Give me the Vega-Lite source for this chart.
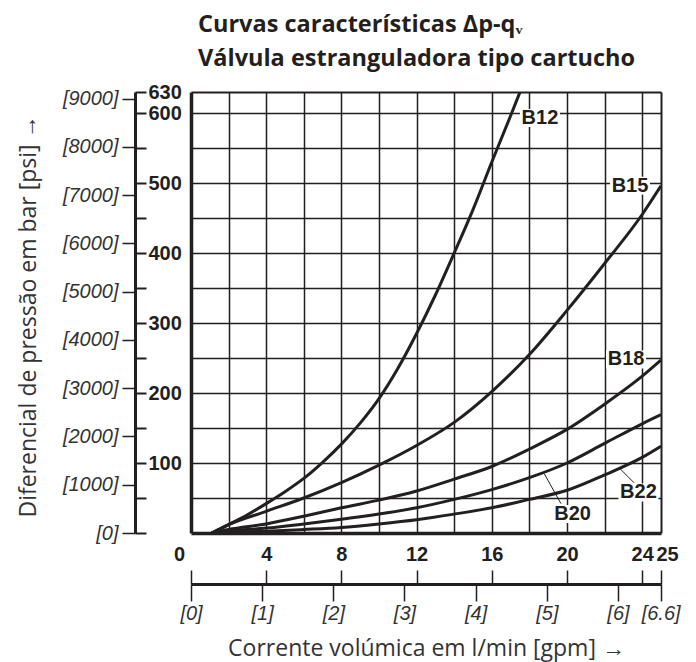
{
  "$schema": "https://vega.github.io/schema/vega-lite/v6.json",
  "width": 470,
  "height": 441,
  "autosize": {"type": "none"},
  "padding": {"left": 191, "top": 92, "right": 35, "bottom": 129},
  "background": "white",
  "config": {"view": {"stroke": null}, "font": "Liberation Sans"},
  "title": {
    "text": ["Curvas características Δp-qᵥ", "Válvula estranguladora tipo cartucho"],
    "anchor": "start",
    "frame": "group",
    "font": "Open Sans",
    "fontSize": 23.5,
    "fontWeight": "bold",
    "lineHeight": 34,
    "color": "#231f20",
    "offset": 18,
    "dx": 7,
    "dy": 6
  },
  "datasets": {
    "curves": [
      {"valve": "B12", "q": 1.1, "dp": 0}, {"valve": "B12", "q": 2, "dp": 12}, {"valve": "B12", "q": 3, "dp": 26}, {"valve": "B12", "q": 4, "dp": 42}, {"valve": "B12", "q": 5, "dp": 59}, {"valve": "B12", "q": 6, "dp": 78}, {"valve": "B12", "q": 7, "dp": 101}, {"valve": "B12", "q": 8, "dp": 127}, {"valve": "B12", "q": 9, "dp": 157}, {"valve": "B12", "q": 10, "dp": 192}, {"valve": "B12", "q": 11, "dp": 235}, {"valve": "B12", "q": 12, "dp": 285}, {"valve": "B12", "q": 13, "dp": 340}, {"valve": "B12", "q": 14, "dp": 400}, {"valve": "B12", "q": 15, "dp": 462}, {"valve": "B12", "q": 16, "dp": 530}, {"valve": "B12", "q": 17, "dp": 596}, {"valve": "B12", "q": 17.5, "dp": 630},
      {"valve": "B15", "q": 1.1, "dp": 0}, {"valve": "B15", "q": 2, "dp": 12}, {"valve": "B15", "q": 4, "dp": 31}, {"valve": "B15", "q": 6, "dp": 50}, {"valve": "B15", "q": 8, "dp": 72}, {"valve": "B15", "q": 10, "dp": 97}, {"valve": "B15", "q": 12, "dp": 125}, {"valve": "B15", "q": 14, "dp": 158}, {"valve": "B15", "q": 16, "dp": 202}, {"valve": "B15", "q": 18, "dp": 255}, {"valve": "B15", "q": 20, "dp": 318}, {"valve": "B15", "q": 22, "dp": 385}, {"valve": "B15", "q": 24, "dp": 455}, {"valve": "B15", "q": 25, "dp": 496},
      {"valve": "B18", "q": 1.1, "dp": 0}, {"valve": "B18", "q": 2, "dp": 5}, {"valve": "B18", "q": 4, "dp": 13}, {"valve": "B18", "q": 6, "dp": 24}, {"valve": "B18", "q": 8, "dp": 36}, {"valve": "B18", "q": 10, "dp": 47}, {"valve": "B18", "q": 12, "dp": 60}, {"valve": "B18", "q": 14, "dp": 77}, {"valve": "B18", "q": 16, "dp": 95}, {"valve": "B18", "q": 18, "dp": 120}, {"valve": "B18", "q": 20, "dp": 148}, {"valve": "B18", "q": 22, "dp": 184}, {"valve": "B18", "q": 24, "dp": 224}, {"valve": "B18", "q": 25, "dp": 247},
      {"valve": "B20", "q": 1.1, "dp": 0}, {"valve": "B20", "q": 2, "dp": 3}, {"valve": "B20", "q": 4, "dp": 7}, {"valve": "B20", "q": 6, "dp": 13}, {"valve": "B20", "q": 8, "dp": 19.5}, {"valve": "B20", "q": 10, "dp": 27}, {"valve": "B20", "q": 12, "dp": 36}, {"valve": "B20", "q": 14, "dp": 48}, {"valve": "B20", "q": 16, "dp": 62}, {"valve": "B20", "q": 18, "dp": 79}, {"valve": "B20", "q": 20, "dp": 100}, {"valve": "B20", "q": 22, "dp": 128}, {"valve": "B20", "q": 24, "dp": 156}, {"valve": "B20", "q": 25, "dp": 169},
      {"valve": "B22", "q": 1.1, "dp": 0}, {"valve": "B22", "q": 2, "dp": 1}, {"valve": "B22", "q": 4, "dp": 2.5}, {"valve": "B22", "q": 6, "dp": 5}, {"valve": "B22", "q": 8, "dp": 8}, {"valve": "B22", "q": 10, "dp": 13}, {"valve": "B22", "q": 12, "dp": 19}, {"valve": "B22", "q": 14, "dp": 27}, {"valve": "B22", "q": 16, "dp": 36}, {"valve": "B22", "q": 18, "dp": 48}, {"valve": "B22", "q": 20, "dp": 61}, {"valve": "B22", "q": 22, "dp": 83}, {"valve": "B22", "q": 24, "dp": 108}, {"valve": "B22", "q": 25, "dp": 124}
    ],
    "labels": [
      {"label": "B12", "q": 18.56, "dp": 593},
      {"label": "B15", "q": 23.35, "dp": 496},
      {"label": "B18", "q": 23.14, "dp": 248},
      {"label": "B20", "q": 20.3, "dp": 27},
      {"label": "B22", "q": 23.8, "dp": 58}
    ],
    "leaders": [
      {"label": "B20", "q": 19.68, "dp": 41.9, "q2": 18.79, "dp2": 84.7},
      {"label": "B22", "q": 23.56, "dp": 71.9, "q2": 22.82, "dp2": 91.9}
    ]
  },
  "layer": [
    {
      "data": {"name": "curves"},
      "mark": {"type": "line", "color": "#231f20", "strokeWidth": 3, "interpolate": "monotone", "clip": true},
      "encoding": {
        "x": {
          "field": "q", "type": "quantitative",
          "scale": {"domain": [0, 25], "nice": false, "zero": false},
          "axis": {
            "orient": "bottom", "values": [0, 2, 4, 6, 8, 10, 12, 14, 16, 18, 20, 22, 24, 25],
            "grid": true, "gridColor": "#231f20", "gridOpacity": 1,
            "gridWidth": {"condition": [{"test": "datum.value === 0", "value": 3.5}, {"test": "datum.value === 25", "value": 2}], "value": 1.5},
            "domain": false, "ticks": false, "labels": false, "title": null
          }
        },
        "y": {
          "field": "dp", "type": "quantitative",
          "scale": {"domain": [0, 630], "nice": false, "zero": false},
          "axis": {
            "orient": "left", "values": [0, 50, 100, 150, 200, 250, 300, 350, 400, 450, 500, 550, 600, 630],
            "grid": true, "gridColor": "#231f20", "gridOpacity": 1,
            "gridWidth": {"condition": [{"test": "datum.value === 0", "value": 3.5}, {"test": "datum.value === 630", "value": 2}], "value": 1.5},
            "domain": false, "ticks": false, "labels": false, "title": null
          }
        },
        "detail": {"field": "valve", "type": "nominal"}
      }
    },
    {
      "data": {"name": "leaders"},
      "mark": {"type": "rule", "color": "#231f20", "strokeWidth": 1},
      "encoding": {
        "x": {
          "field": "q", "type": "quantitative",
          "scale": {"domain": [0, 25], "nice": false, "zero": false},
          "axis": {
            "orient": "bottom", "values": [0, 4, 8, 12, 16, 20, 24, 25],
            "grid": false, "domain": false, "ticks": false, "tickSize": 0,
            "labelPadding": 11, "labelFont": "Liberation Sans", "labelFontSize": 20, "labelFontWeight": "bold",
            "labelColor": "#231f20", "labelFlush": false, "labelOverlap": false,
            "labelOffset": {"condition": [{"test": "datum.value === 0", "value": -12}, {"test": "datum.value === 25", "value": 6}], "value": 0},
            "title": null
          }
        },
        "x2": {"field": "q2"},
        "y": {
          "field": "dp", "type": "quantitative",
          "scale": {"domain": [0, 630], "nice": false, "zero": false},
          "axis": {
            "orient": "left", "offset": 56, "values": [0, 50, 100, 150, 200, 250, 300, 350, 400, 450, 500, 550, 600, 630],
            "grid": false, "domain": true, "domainColor": "#231f20", "domainWidth": 3,
            "ticks": true, "tickSize": -11, "tickWidth": 2, "tickColor": "#231f20",
            "labels": false, "title": null
          }
        },
        "y2": {"field": "dp2"}
      }
    },
    {
      "data": {"name": "labels"},
      "mark": {"type": "point", "shape": "M-1,-0.45L1,-0.45L1,0.45L-1,0.45Z", "size": 1600, "filled": true, "color": "white", "opacity": 1},
      "encoding": {
        "x": {
          "field": "q", "type": "quantitative",
          "scale": {"domain": [0, 25], "nice": false, "zero": false},
          "axis": {
            "orient": "bottom", "offset": 51, "values": [0, 4, 8, 12, 16, 20, 24, 25],
            "grid": false, "domain": true, "domainColor": "#231f20", "domainWidth": 3,
            "ticks": true, "tickSize": -14, "tickWidth": 1.5, "tickColor": "#231f20",
            "labels": false, "title": null
          }
        },
        "y": {
          "field": "dp", "type": "quantitative",
          "scale": {"domain": [0, 630], "nice": false, "zero": false},
          "axis": {
            "orient": "left", "offset": 43, "values": [100, 200, 300, 400, 500, 600, 630],
            "grid": false, "domain": false, "ticks": false, "tickSize": 0,
            "labelPadding": 0, "labelAlign": "left", "labelBaseline": "middle",
            "labelFont": "Liberation Sans", "labelFontSize": 20, "labelFontWeight": "bold", "labelColor": "#231f20",
            "labelFlush": false, "labelOverlap": false, "title": null
          }
        }
      }
    },
    {
      "data": {"name": "labels"},
      "mark": {"type": "text", "font": "Liberation Sans", "fontSize": 20, "fontWeight": "bold", "color": "#231f20", "baseline": "middle", "align": "center"},
      "encoding": {
        "x": {
          "field": "q", "type": "quantitative",
          "scale": {"domain": [0, 25], "nice": false, "zero": false},
          "axis": {
            "orient": "bottom", "offset": 51, "values": [0, 3.7854, 7.5708, 11.3562, 15.1416, 18.927, 22.7124, 24.98],
            "grid": false, "domain": false,
            "ticks": true, "tickSize": 17, "tickWidth": 1.5, "tickColor": "#231f20",
            "labelExpr": "'[' + format(datum.value / 3.7854, '.1~f') + ']'",
            "labelPadding": 2, "labelFont": "Liberation Sans", "labelFontSize": 20, "labelFontStyle": "italic",
            "labelColor": "#333333", "labelFlush": false, "labelOverlap": false,
            "title": "Corrente volúmica em l/min [gpm] →",
            "titleFont": "Open Sans", "titleFontSize": 23, "titleFontWeight": "normal", "titleColor": "#333333",
            "titleBaseline": "alphabetic", "titleY": 71
          }
        },
        "y": {
          "field": "dp", "type": "quantitative",
          "scale": {"domain": [0, 630], "nice": false, "zero": false},
          "axis": {
            "orient": "left", "offset": 56,
            "values": [0, 68.9476, 137.8952, 206.8428, 275.7904, 344.738, 413.6856, 482.6332, 551.5808, 620.5284],
            "grid": false, "domain": false,
            "ticks": true, "tickSize": 13, "tickWidth": 1.5, "tickColor": "#231f20",
            "labelExpr": "'[' + format(datum.value / 0.0689476, '.0f') + ']'",
            "labelPadding": 4, "labelFont": "Liberation Sans", "labelFontSize": 20, "labelFontStyle": "italic",
            "labelColor": "#333333", "labelFlush": false, "labelOverlap": false,
            "title": "Diferencial de pressão em bar [psi] →",
            "titleFont": "Open Sans", "titleFontSize": 23, "titleFontWeight": "normal", "titleColor": "#333333",
            "titleAngle": 270, "titleAlign": "center", "titleBaseline": "alphabetic", "titleX": -100, "titleY": 224
          }
        },
        "text": {"field": "label", "type": "nominal"}
      }
    }
  ],
  "resolve": {"axis": {"x": "independent", "y": "independent"}}
}
